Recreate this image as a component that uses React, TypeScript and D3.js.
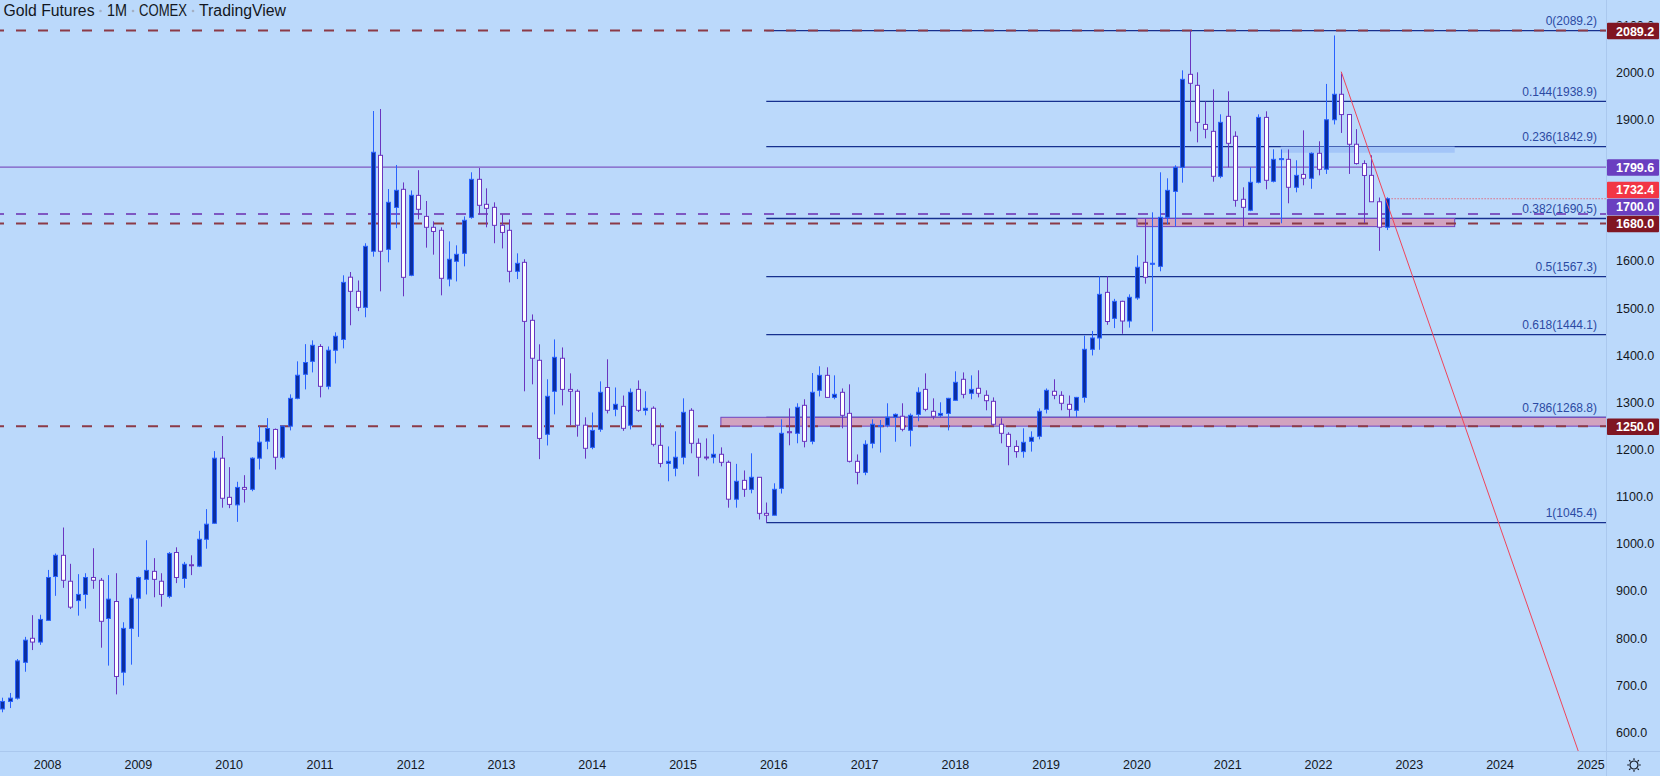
import React from 'react';
import * as d3 from 'd3';

// ---------- DATA ----------
// Monthly candles, Jul 2007 .. Oct 2022 (Gold Futures, COMEX)
const firstMonth = new Date(2007, 6, 1);
const endMonth = new Date(2022, 10, 1);
const months = d3.timeMonth.range(firstMonth, endMonth).map(d => d3.timeFormat('%Y-%m')(d));

const opens = [
  650, 666, 673, 749, 800, 792,
  838, 931, 976, 921, 880, 893, 929, 923, 842, 878, 728, 821,
  885, 925, 942, 921, 889, 982, 927, 956, 953, 1010, 1044, 1182,
  1099, 1083, 1120, 1116, 1182, 1218, 1243, 1184, 1250, 1309, 1360, 1387.5,
  1419, 1334.5, 1411, 1434, 1566, 1536, 1502, 1621, 1824.5, 1625, 1714, 1752.4,
  1570, 1739.6, 1695, 1671.8, 1665.4, 1562, 1599.7, 1616.6, 1693, 1773.6, 1720.6, 1714.2,
  1676, 1665.4, 1578.5, 1597.5, 1474.5, 1389.7, 1232.7, 1323.9, 1394, 1328, 1324, 1252,
  1205, 1243.3, 1332, 1285.7, 1292, 1252, 1328, 1283.6, 1288, 1209.3, 1171, 1160.6,
  1184, 1283.6, 1213.6, 1184.5, 1184, 1190.3, 1173.3, 1095, 1135, 1116, 1141.5, 1065,
  1061, 1118, 1238.3, 1234.8, 1294.2, 1217.8, 1326, 1357.8, 1311, 1321.8, 1277.2, 1175.4,
  1152, 1213.6, 1250, 1251.8, 1268.8, 1271, 1241.2, 1275, 1328, 1281.5, 1273, 1277,
  1304.8, 1349.4, 1319.7, 1330.3, 1315.4, 1302.7, 1254, 1232.7, 1207, 1196, 1217.8, 1228.5,
  1285.7, 1324, 1315.4, 1296.3, 1283.6, 1311, 1413, 1437, 1533.8, 1478.7, 1514.8, 1473,
  1522, 1597.5, 1593.5, 1589, 1693, 1748, 1799, 1996.3, 1973, 1890, 1875.4, 1780,
  1907.2, 1864.9, 1731.2, 1708, 1767.3, 1905, 1769.4, 1816.8, 1816, 1756.7, 1784, 1775.8,
  1828.8, 1795, 1900, 1954, 1911, 1848, 1807, 1782, 1726, 1672,
];
const highs = [
  674, 684, 756, 803, 849, 850,
  945, 980, 1035, 958, 936, 938, 991, 928, 934, 938, 834, 893,
  931, 1008, 970, 938, 983, 993, 962, 976, 1028, 1074, 1197, 1229,
  1163, 1132, 1146, 1184, 1250, 1267, 1245, 1251, 1317.5, 1387.5, 1424, 1432,
  1424, 1419, 1449, 1570, 1577, 1559, 1638, 1918.5, 1922.8, 1753, 1804, 1767,
  1750, 1793, 1727.6, 1684.5, 1671.8, 1642, 1633.6, 1695, 1788.5, 1797.6, 1754.5, 1724.8,
  1699, 1688.7, 1616.6, 1604, 1487, 1423.6, 1349.4, 1434, 1417, 1362, 1328, 1268.8,
  1279, 1345, 1391.8, 1332, 1315, 1330, 1347, 1324, 1292, 1256, 1207, 1239,
  1309, 1288, 1224, 1224, 1232.7, 1205, 1177, 1170, 1156, 1192.4, 1142, 1088,
  1128.8, 1264.5, 1287.8, 1298.5, 1307, 1362.7, 1377, 1374.8, 1357.8, 1330, 1338.7, 1190,
  1220, 1264.5, 1263, 1298.5, 1277, 1298.5, 1277, 1332.4, 1362, 1309, 1300.6, 1310,
  1366.3, 1364, 1357.8, 1368.5, 1326, 1311, 1266.6, 1237, 1220, 1245.4, 1239, 1287.8,
  1330, 1349.4, 1324, 1315, 1312, 1442, 1452, 1567.8, 1567.8, 1520, 1516, 1529.6,
  1612.4, 1690, 1703.6, 1788.5, 1775.8, 1803.4, 2004.8, 2089.2, 2000.6, 1939, 1964.5, 1911.5,
  1960.3, 1875.4, 1756.7, 1799, 1911.5, 1917.9, 1837.3, 1837, 1837, 1814, 1877.5, 1830.9,
  1854.3, 1976, 2078.8, 1998, 1912, 1880, 1814, 1824.6, 1735, 1735.5,
];
const lows = [
  643, 652, 670, 729, 775, 786,
  838, 890, 907, 862, 848, 863, 905, 780, 742, 681, 700, 744,
  803, 893, 887, 867, 885, 917, 907, 934, 951, 990, 1043, 1077,
  1076, 1047, 1088, 1112, 1158, 1201, 1158, 1180, 1241, 1307, 1328, 1364,
  1311, 1328, 1383, 1415, 1464, 1494, 1481, 1609.5, 1536, 1597.5, 1670, 1525.4,
  1568, 1688.7, 1628.6, 1613.8, 1527.5, 1546.6, 1557, 1589, 1690, 1699, 1671.8, 1638,
  1627, 1555, 1562, 1323.9, 1338.7, 1180, 1209, 1275, 1294, 1251.8, 1227.7, 1181,
  1201, 1238, 1277, 1271, 1240, 1243, 1280, 1273, 1207, 1162.7, 1133, 1143.6,
  1169, 1192.4, 1143.6, 1177.6, 1171, 1164.8, 1077, 1077, 1100, 1107.5, 1052, 1045.4,
  1061, 1107, 1209.4, 1213.6, 1205, 1211.5, 1313, 1310, 1307, 1245.4, 1173, 1126.6,
  1146, 1203, 1194, 1247.5, 1217, 1239, 1207, 1260.3, 1281.5, 1264.5, 1268.8, 1241,
  1304, 1309, 1307, 1311, 1283.6, 1250, 1213.6, 1167, 1183, 1183, 1196, 1222,
  1277, 1307, 1283.6, 1268.8, 1268.8, 1300, 1400, 1412, 1465, 1458, 1446, 1459,
  1518, 1552.3, 1451, 1578.5, 1678, 1674, 1766.5, 1875.4, 1852, 1860.6, 1768.6, 1776,
  1799, 1715.5, 1674, 1706, 1765, 1752.4, 1767, 1680.3, 1722.7, 1746, 1760.9, 1753.5,
  1782, 1785, 1890, 1872, 1785, 1805, 1681, 1727, 1622, 1666,
];
const closes = [
  666, 673, 752, 796, 792, 840,
  929, 976, 923, 866, 893, 929, 923, 836, 883, 719, 821, 885,
  929, 944, 925, 893, 980, 929, 957, 955, 1010, 1042, 1182, 1097,
  1084, 1120, 1116, 1182, 1216, 1245, 1184, 1250, 1309, 1358, 1385, 1421.5,
  1334.5, 1411, 1440.6, 1555, 1536, 1502, 1631.5, 1831, 1621, 1724.8, 1750.3, 1565.7,
  1739.7, 1710, 1671.8, 1663, 1563.6, 1604, 1614.5, 1686.7, 1773.6, 1718.5, 1712, 1676,
  1661, 1578.5, 1595.4, 1472.3, 1394, 1224, 1313.3, 1396, 1328, 1324, 1252, 1203,
  1241, 1321.8, 1283.6, 1296.3, 1245.4, 1321.8, 1283.6, 1287.9, 1211.5, 1171, 1175.4, 1184,
  1279.3, 1213.6, 1184, 1183.5, 1190.3, 1173.3, 1095, 1133, 1116, 1141.5, 1065, 1061,
  1116, 1234.8, 1236, 1290, 1217.8, 1321.8, 1357.8, 1311, 1317.5, 1273, 1175.4, 1152,
  1211.5, 1254, 1251.5, 1268.8, 1275, 1243.3, 1273, 1321.8, 1285.7, 1271, 1277, 1309,
  1343, 1317.5, 1328, 1319.7, 1304, 1254, 1234.8, 1207, 1196, 1215.7, 1226.3, 1281.5,
  1326, 1315.4, 1298.5, 1285.7, 1311, 1413, 1437, 1529.6, 1472, 1514.8, 1473, 1523.3,
  1587, 1565.7, 1595.5, 1693, 1750.2, 1799, 1985.7, 1977.3, 1894.5, 1879.7, 1780, 1894.5,
  1850, 1729, 1714.2, 1767.3, 1905, 1771.5, 1816, 1817.5, 1756.7, 1782, 1775.8, 1828.8,
  1794.8, 1900, 1954, 1911, 1848, 1807, 1781.8, 1726, 1672, 1732.4,
];

// Fibonacci retracement (Dec 2015 low -> Aug 2020 high)
const fibStart = '2015-12';
const fibRatios = [0, 0.144, 0.236, 0.382, 0.5, 0.618, 0.786, 1];
const fibValues = [2089.2, 1938.9, 1842.9, 1690.5, 1567.3, 1444.1, 1268.8, 1045.4];

// Horizontal levels
const dashedRedLevels = [2089.2, 1680, 1250];
const dashedPurpleLevels = [1700];
const solidPurpleLevels = [1799.6];
const lastPrice = 1732.4;

// Zones: start month, end month (null = extends right), low, high
const zoneStarts = ['2015-06', '2020-01', '2021-08'];
const zoneEnds = [null, '2023-07', '2023-07'];
const zoneLows = [1250, 1673.3, 1830];
const zoneHighs = [1268.8, 1690.5, 1842.9];

// Trend line anchors
const trendMonths = ['2022-04', '2022-08'];
const trendPrices = [2002, 1818];

// Axis ticks
const yearTicks = d3.range(2008, 2026);
const priceTicks = [600, 700, 800, 900, 1000, 1100, 1200, 1300, 1400, 1500, 1600, 1900, 2000, 2100];

// Price label boxes on the axis
const boxValues = [2089.2, 1799.6, 1732.4, 1700, 1680, 1250];
const boxKinds = ['red', 'purple', 'last', 'purple', 'red', 'red'];

// Title pieces
const titleParts = ['Gold Futures', '1M', 'COMEX', 'TradingView'];

// ---------- STYLE ----------
const BG = '#bbd9fb';
const UP_FILL = '#0c2f9f';
const UP_LINE = '#2962ff';
const DN_FILL = '#ffffff';
const DN_LINE = '#6a35c0';
const FIB_LINE = '#16308f';
const FIB_TEXT = '#2b4aa3';
const DASH_RED = '#8c3a47';
const DASH_PURPLE = '#7e57c2';
const BOX_COLORS: Record<string, string> = { red: '#801622', purple: '#6a3fc0', last: '#f23645' };
const FONT = "'Liberation Sans', Arial, sans-serif";
const NARROW = "'Liberation Sans Narrow', 'Liberation Sans', Arial, sans-serif";

export default function App() {
  const W = 1660, H = 776;
  const plotR = 1606, plotB = 751;
  const parse = d3.timeParse('%Y-%m');
  const mIdx = (s: string) => {
    const d = parse(s)!;
    return (d.getFullYear() - 2008) * 12 + d.getMonth();
  };
  const x = d3.scaleLinear().domain([0, 192]).range([47.6, 47.6 + 192 * 7.565]);
  const y = d3.scaleLinear().domain([1000, 2000]).range([544, 72.6]);
  const X = (s: string) => x(mIdx(s));

  const candles = months.map((m, i) => ({ m, o: opens[i], h: highs[i], l: lows[i], c: closes[i] }));

  // price boxes with collision resolution (push up from the bottom)
  const boxH = 16.5;
  const boxes = boxValues.map((v, i) => ({ v, kind: boxKinds[i], cy: y(v) + 0.5 }));
  const sorted = [...boxes].sort((a, b) => b.cy - a.cy);
  for (let i = 1; i < sorted.length; i++) {
    const below = sorted[i - 1];
    if (below.cy - sorted[i].cy < boxH + 0.5) sorted[i].cy = below.cy - boxH - 0.5;
  }

  // trend line extended to the right
  const t0 = mIdx(trendMonths[0]), t1 = mIdx(trendMonths[1]);
  const slope = (trendPrices[1] - trendPrices[0]) / (t1 - t0);
  const tEnd = 215;
  const trendPath = d3.line<[number, number]>()([
    [x(t0), y(trendPrices[0])],
    [x(tEnd), y(trendPrices[0] + slope * (tEnd - t0))],
  ]) as string;

  const lastX = x(mIdx(months[months.length - 1]));

  // title layout (left x and width of each piece)
  const titleX = [3.5, 107, 139, 199];
  const titleW = [91, 20, 48, 87];
  const sepX = [100.5, 133, 193];

  return (
    <svg width={W} height={H} style={{ position: 'absolute', left: 0, top: 0, display: 'block' }} fontFamily={FONT}>
      <defs>
        <clipPath id="plotClip">
          <rect x={0} y={0} width={plotR} height={plotB} />
        </clipPath>
        <clipPath id="axisTopClip">
          <rect x={plotR + 1} y={0} width={60} height={22.5} />
        </clipPath>
      </defs>
      <rect x={0} y={0} width={W} height={H} fill={BG} />

      <g clipPath="url(#plotClip)">
        {/* Fib lines */}
        {fibValues.map((v, i) => (
          <g key={'fib' + i}>
            <line x1={X(fibStart)} x2={plotR} y1={y(v)} y2={y(v)} stroke={FIB_LINE} strokeWidth={1.3} />
            <text x={1597} y={y(v) - 5.5} textAnchor="end" fontSize={12} fill={FIB_TEXT}>
              {`${fibRatios[i]}(${v.toFixed(1)})`}
            </text>
          </g>
        ))}

        {/* Zones */}
        {zoneStarts.map((s, i) => {
          const x0 = X(s);
          const x1 = zoneEnds[i] ? X(zoneEnds[i] as string) : plotR + 2;
          const blue = i === 2;
          return (
            <rect key={'z' + i} x={x0} y={y(zoneHighs[i])} width={x1 - x0}
              height={y(zoneLows[i]) - y(zoneHighs[i])}
              fill={blue ? '#a3c5f8' : '#d2a3bf'}
              stroke={blue ? 'none' : '#7244bf'} strokeWidth={1} />
          );
        })}

        {/* Solid purple level */}
        {solidPurpleLevels.map(v => (
          <line key={'sp' + v} x1={0} x2={plotR} y1={y(v)} y2={y(v)} stroke={DASH_PURPLE} strokeWidth={1.2} />
        ))}
        {/* Dashed levels */}
        {dashedPurpleLevels.map(v => (
          <line key={'dp' + v} x1={0} x2={plotR} y1={y(v)} y2={y(v)} stroke={DASH_PURPLE}
            strokeWidth={2} strokeDasharray="10 12" strokeDashoffset={6} />
        ))}
        {dashedRedLevels.map(v => (
          <line key={'dr' + v} x1={0} x2={plotR} y1={y(v)} y2={y(v)} stroke={DASH_RED}
            strokeWidth={2} strokeDasharray="10 12" strokeDashoffset={6} />
        ))}

        {/* Last price dotted line */}
        <line x1={lastX + 2} x2={plotR} y1={y(lastPrice)} y2={y(lastPrice)} stroke="#f23645"
          strokeWidth={1} strokeDasharray="1 2" />

        {/* Candles */}
        {candles.map(d => {
          const cx = Math.round(x(mIdx(d.m)));
          const up = d.c >= d.o;
          const top = y(Math.max(d.o, d.c));
          const bot = y(Math.min(d.o, d.c));
          const line = up ? UP_LINE : DN_LINE;
          return (
            <g key={d.m}>
              <line x1={cx + 0.5} x2={cx + 0.5} y1={y(d.h)} y2={y(d.l)} stroke={line} strokeWidth={1} />
              <rect x={cx - 1.5} y={top} width={4} height={Math.max(1, bot - top)}
                fill={up ? UP_FILL : DN_FILL} stroke={line} strokeWidth={1} />
            </g>
          );
        })}

        {/* Trend line */}
        <path d={trendPath} stroke="#f0445a" strokeWidth={1} fill="none" />
      </g>

      {/* axis borders */}
      <line x1={plotR + 0.5} x2={plotR + 0.5} y1={0} y2={H} stroke="#aac8ee" strokeWidth={1} />
      <line x1={0} x2={W} y1={plotB + 0.5} y2={plotB + 0.5} stroke="#aac8ee" strokeWidth={1} />

      {/* Price axis labels (the top one peeks out above the 2089.2 box) */}
      {priceTicks.map(v => (
        <text key={'pt' + v} x={1616} y={y(v) + 4.3} fontSize={12.5} fill="#131722"
          clipPath={v === 2100 ? 'url(#axisTopClip)' : undefined}>{v.toFixed(1)}</text>
      ))}

      {/* Price boxes */}
      {boxes.map(b => (
        <g key={'b' + b.v}>
          <rect x={plotR + 1} y={b.cy - boxH / 2} width={52} height={boxH} fill={BOX_COLORS[b.kind]} rx={1} />
          <text x={1616} y={b.cy + 4.5} fontSize={12.5} fontWeight="bold" fill="#ffffff">{b.v.toFixed(1)}</text>
        </g>
      ))}

      {/* Time axis labels */}
      {yearTicks.map(yr => (
        <text key={'yr' + yr} x={X(`${yr}-01`)} y={768.5} fontSize={12.5} textAnchor="middle" fill="#131722">{yr}</text>
      ))}

      {/* settings icon */}
      <g transform="translate(1634,765)" stroke="#131722" strokeWidth={1.2} fill="none">
        <circle r={4} />
        {d3.range(8).map(k => {
          const a = (k * Math.PI) / 4;
          return <line key={'r' + k} x1={Math.cos(a) * 5} y1={Math.sin(a) * 5} x2={Math.cos(a) * 6.8} y2={Math.sin(a) * 6.8} />;
        })}
      </g>

      {/* Title */}
      {titleParts.map((t, i) => (
        <text key={'t' + i} x={titleX[i]} y={16} fontSize={16} fill="#131722" fontFamily={NARROW}
          textLength={titleW[i]} lengthAdjust="spacingAndGlyphs">{t}</text>
      ))}
      {sepX.map((sx, i) => (
        <circle key={'s' + i} cx={sx} cy={11} r={1.3} fill="#a4b0c4" />
      ))}
    </svg>
  );
}
